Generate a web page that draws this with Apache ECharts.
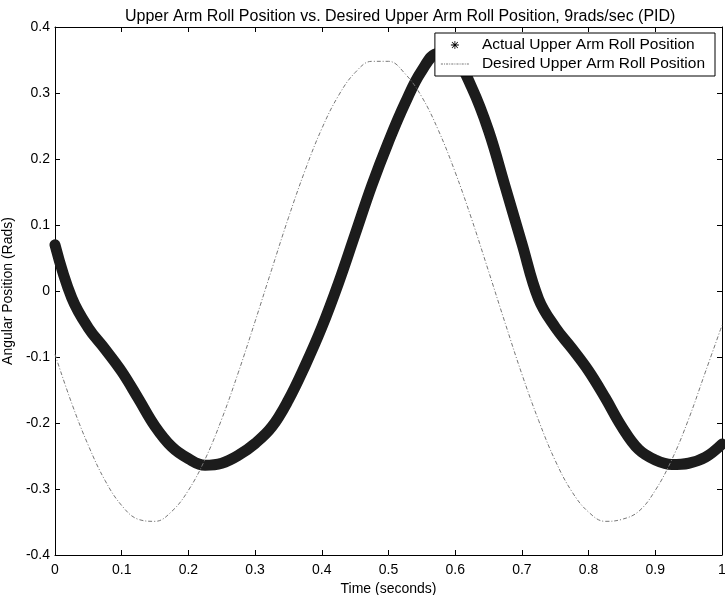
<!DOCTYPE html>
<html>
<head>
<meta charset="utf-8">
<script src="https://cdn.jsdelivr.net/npm/echarts@6/dist/echarts.min.js"></script>
<style>html,body{margin:0;padding:0;background:#fff}#c{width:725px;height:595px}</style>
</head>
<body>
<div id="c"></div>
<script>
const times = [0,0.025,0.05,0.075,0.1,0.125,0.15,0.175,0.2,0.225,0.25,0.275,0.3,0.325,0.35,0.375,0.4,0.425,0.45,0.475,0.5,0.525,0.55,0.575,0.6,0.625,0.65,0.675,0.7,0.725,0.75,0.775,0.8,0.825,0.85,0.875,0.9,0.925,0.95,0.975,1.0];
const actual = [0.070,-0.010,-0.056,-0.088,-0.122,-0.163,-0.205,-0.236,-0.254,-0.264,-0.261,-0.249,-0.231,-0.206,-0.165,-0.113,-0.055,0.012,0.086,0.160,0.226,0.285,0.334,0.360,0.352,0.308,0.243,0.158,0.072,-0.012,-0.055,-0.087,-0.121,-0.162,-0.206,-0.240,-0.256,-0.263,-0.261,-0.252,-0.232];
const desired = [-0.096,-0.170,-0.234,-0.287,-0.325,-0.346,-0.349,-0.334,-0.302,-0.255,-0.194,-0.123,-0.046,0.033,0.111,0.183,0.246,0.296,0.331,0.348,0.348,0.329,0.294,0.243,0.180,0.108,0.030,-0.049,-0.126,-0.196,-0.257,-0.304,-0.335,-0.349,-0.346,-0.334,-0.302,-0.255,-0.194,-0.123,-0.052];
const xTicks = [0,0.1,0.2,0.3,0.4,0.5,0.6,0.7,0.8,0.9,1];
const yTicks = [-0.4,-0.3,-0.2,-0.1,0,0.1,0.2,0.3,0.4];
const titleText = 'Upper Arm Roll Position vs. Desired Upper Arm Roll Position, 9rads/sec (PID)';
const xName = 'Time (seconds)';
const yName = 'Angular Position (Rads)';
const nameActual = 'Actual Upper Arm Roll Position';
const nameDesired = 'Desired Upper Arm Roll Position';

const FONT = 'Liberation Sans, Arial, sans-serif';
const star = 'path://M4.5,0 h1 v10 h-1 Z M0,4.5 h10 v1 h-10 Z M1,1.7 L1.7,1 L9,8.3 L8.3,9 Z M8.3,1 L9,1.7 L1.7,9 L1,8.3 Z';
const dots = 'path://M0,0 h2 v1 h-2 Z M3,0 h1 v1 h-1 Z M5,0 h2 v1 h-2 Z M8,0 h1 v1 h-1 Z M10,0 h2 v1 h-2 Z M13,0 h1 v1 h-1 Z M15,0 h2 v1 h-2 Z M18,0 h1 v1 h-1 Z M20,0 h2 v1 h-2 Z M23,0 h1 v1 h-1 Z M25,0 h2 v1 h-2 Z';
const fmt = v => (Math.abs(v) < 1e-9 ? '0' : String(Math.round(v * 10) / 10));
const xFmt = v => (Math.abs(v) < 1e-9 ? '0' : (Math.abs(v - 1) < 1e-9 ? '1' : String(Math.round(v * 10) / 10)));

const axisLine = {show: true, onZero: false, lineStyle: {color: '#000', width: 1}};
const tick = {show: true, inside: true, length: 5, lineStyle: {color: '#000'}};

const chart = echarts.init(document.getElementById('c'), null, {renderer: 'canvas'});
chart.setOption({
  backgroundColor: '#fff',
  animation: false,
  title: {
    text: titleText, left: 120, top: 4,
    textStyle: {fontFamily: FONT, fontSize: 16, fontWeight: 'normal', color: '#000'}
  },
  legend: {
    orient: 'vertical', right: 10, top: 33,
    backgroundColor: '#fff', borderColor: '#000', borderWidth: 1, borderRadius: 0,
    padding: [4, 10, 4, 6], itemGap: 3, itemWidth: 28, itemHeight: 8,
    textStyle: {fontFamily: FONT, fontSize: 15.5, color: '#000', padding: [0, 0, 0, 8]},
    data: [
      {name: nameActual, icon: star, itemStyle: {color: '#000'}},
      {name: nameDesired, icon: dots, itemStyle: {color: '#777'}}
    ]
  },
  grid: {left: 55, right: 3, top: 27, bottom: 40, containLabel: false, outerBoundsMode: 'none'},
  xAxis: [
    {type: 'value', position: 'bottom', min: 0, max: 1, interval: 0.1,
     axisLine, axisTick: tick, splitLine: {show: false},
     axisLabel: {fontFamily: FONT, fontSize: 14, color: '#000', margin: 8, formatter: xFmt},
     name: xName, nameLocation: 'middle', nameGap: 27,
     nameTextStyle: {fontFamily: FONT, fontSize: 14, color: '#000'}},
    {type: 'value', position: 'top', min: 0, max: 1, interval: 0.1,
     axisLine, axisTick: tick, splitLine: {show: false}, axisLabel: {show: false}}
  ],
  yAxis: [
    {type: 'value', position: 'left', min: -0.4, max: 0.4, interval: 0.1,
     axisLine, axisTick: tick, splitLine: {show: false},
     axisLabel: {fontFamily: FONT, fontSize: 14, color: '#000', margin: 5, formatter: fmt},
     name: yName, nameLocation: 'middle', nameGap: 37, nameRotate: 90,
     nameTextStyle: {fontFamily: FONT, fontSize: 14, color: '#000'}},
    {type: 'value', position: 'right', min: -0.4, max: 0.4, interval: 0.1,
     axisLine, axisTick: tick, splitLine: {show: false}, axisLabel: {show: false}}
  ],
  series: [
    {name: nameActual, type: 'line', smooth: 0.4, symbol: 'none',
     data: times.map((t, i) => [t, actual[i]]),
     lineStyle: {color: '#1c1c1c', width: 11, cap: 'round', join: 'round'},
     itemStyle: {color: '#000'}, z: 2},
    {name: nameDesired, type: 'line', smooth: 0.4, symbol: 'none',
     data: times.map((t, i) => [t, desired[i]]),
     lineStyle: {color: '#777', width: 1, type: [4, 2, 1, 2]},
     itemStyle: {color: '#777'}, z: 3}
  ]
});
</script>
</body>
</html>
